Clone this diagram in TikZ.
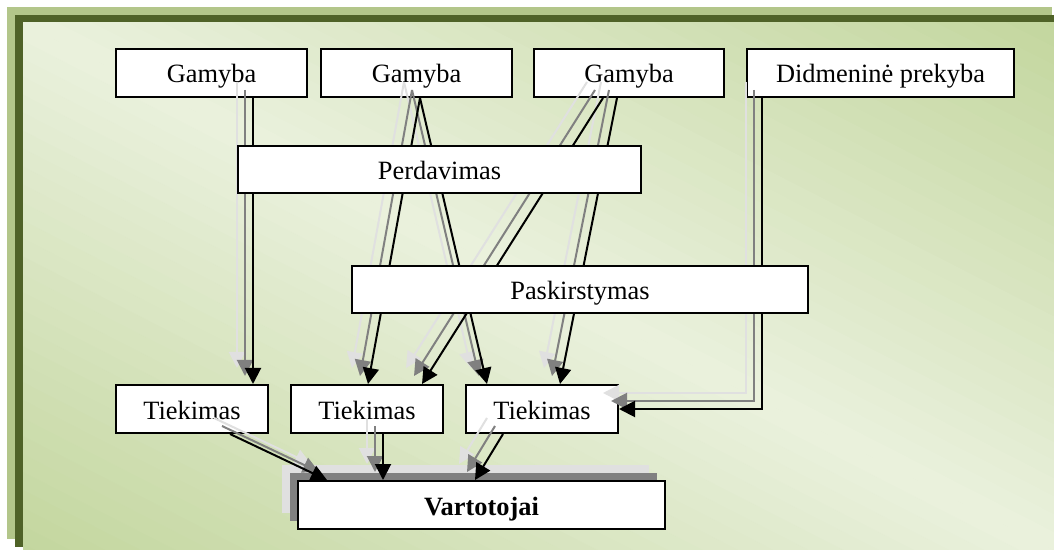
\documentclass[tikz,border=0pt]{standalone}
\usepackage{fontspec}
\setmainfont{Liberation Serif}
\usetikzlibrary{arrows.meta}

\definecolor{frameLight}{HTML}{B3C68A}
\definecolor{frameDark}{HTML}{4F6228}
\definecolor{fillGreen}{HTML}{C3D69E}
\definecolor{fillLight}{HTML}{EAF1DD}
\definecolor{shDark}{HTML}{808080}
\definecolor{shLight}{HTML}{E0E0E0}

\tikzset{
  box/.style={draw=black, line width=1pt, fill=white, inner sep=0pt,
    text height=11pt, text depth=1pt,
    font=\fontsize{13.2}{15}\selectfont},
  conn/.style={line width=1pt, draw=black, -{Triangle[length=8pt,width=8pt]}},
  darksh/.style={conn, draw=shDark, transform canvas={shift={(-4pt,4pt)}}},
  lightsh/.style={conn, draw=shLight, transform canvas={shift={(-8pt,8pt)}}},
}

% every flow of the scheme, drawn with the given style
\newcommand\allflows[1]{%
  \draw[#1] ([shift={(41.5,0)}]g1.south) -- ([shift={(61,0)}]t1.north);
  \draw[#1] ([shift={(3.5,0)}]g2.south) -- ([shift={(1,0)}]t2.north);
  \draw[#1] ([shift={(3.5,0)}]g2.south) -- ([shift={(-55,0)}]t3.north);
  \draw[#1] ([shift={(-26,0)}]g3.south) -- ([shift={(55,0)}]t2.north);
  \draw[#1] ([shift={(-12,0)}]g3.south) -- ([shift={(18,0)}]t3.north);
  \draw[#1] ([shift={(-118.5,0)}]dp.south) |- (t3.east);
  \draw[#1] ([shift={(38,0)}]t1.south) -- ([shift={(-154.5,0)}]vt.north);
  \draw[#1] ([shift={(16,0)}]t2.south) -- ([shift={(-98.5,0)}]vt.north);
  \draw[#1] ([shift={(-39,0)}]t3.south) -- ([shift={(-6.5,0)}]vt.north);
}

\begin{document}
\begin{tikzpicture}[x=0.5pt, y=-0.5pt]
\useasboundingbox (0,0) rectangle (1054,550);
\clip (0,0) rectangle (1054,550);

% framed background panel
\fill[frameLight] (7,7) rectangle (1052,539);
\fill[frameDark] (15,15) rectangle (1060,547);
\begin{scope}
  \clip (23,23) rectangle (1068,555);
  \fill[fillGreen] (23,23) rectangle (1068,555);
  % diagonal gradient: light along the main diagonal, green towards the corners
  \begin{scope}[shift={(538.5,286.5)}, rotate=-27.07]
    \foreach \i in {-30,...,29} {
      \pgfmathtruncatemacro\p{min(100, abs(\i*16+8)/469*100)}
      \fill[fillGreen!\p!fillLight] (-800,\i*16) rectangle (800,\i*16+16.6);
    }
  \end{scope}
\end{scope}

% upper row
\node[box, minimum width=95.5pt, minimum height=24pt] (g1) at (211.5,73) {Gamyba};
\node[box, minimum width=95.5pt, minimum height=24pt] (g2) at (416.5,73) {Gamyba};
\node[box, minimum width=95pt, minimum height=24pt] (g3) at (629,73) {Gamyba};
\node[box, minimum width=133.5pt, minimum height=24pt] (dp) at (880.5,73) {Didmeninė prekyba};

% supply row
\node[box, minimum width=76pt, minimum height=24pt] (t1) at (192,409) {Tiekimas\hspace{5pt}};
\node[box, minimum width=76pt, minimum height=24pt] (t2) at (367,409) {Tiekimas\hspace{5pt}};
\node[box, minimum width=76pt, minimum height=24pt] (t3) at (542,409) {Tiekimas\hspace{5pt}};

% consumers with stacked shadow
\fill[shLight] (282,465) rectangle (649,513);
\fill[shDark] (290,473) rectangle (657,521);
\node[box, minimum width=183.5pt, minimum height=24pt] (vt) at (481.5,505) {\textbf{Vartotojai}};

% flows with their shadows
\allflows{lightsh}
\allflows{darksh}
\allflows{conn}

% middle stages lie over the flows
\node[box, minimum width=201.5pt, minimum height=23.5pt] (pd) at (439.5,169.5) {Perdavimas};
\node[box, minimum width=228pt, minimum height=23.5pt] (ps) at (580,289.5) {Paskirstymas};
\end{tikzpicture}
\end{document}
